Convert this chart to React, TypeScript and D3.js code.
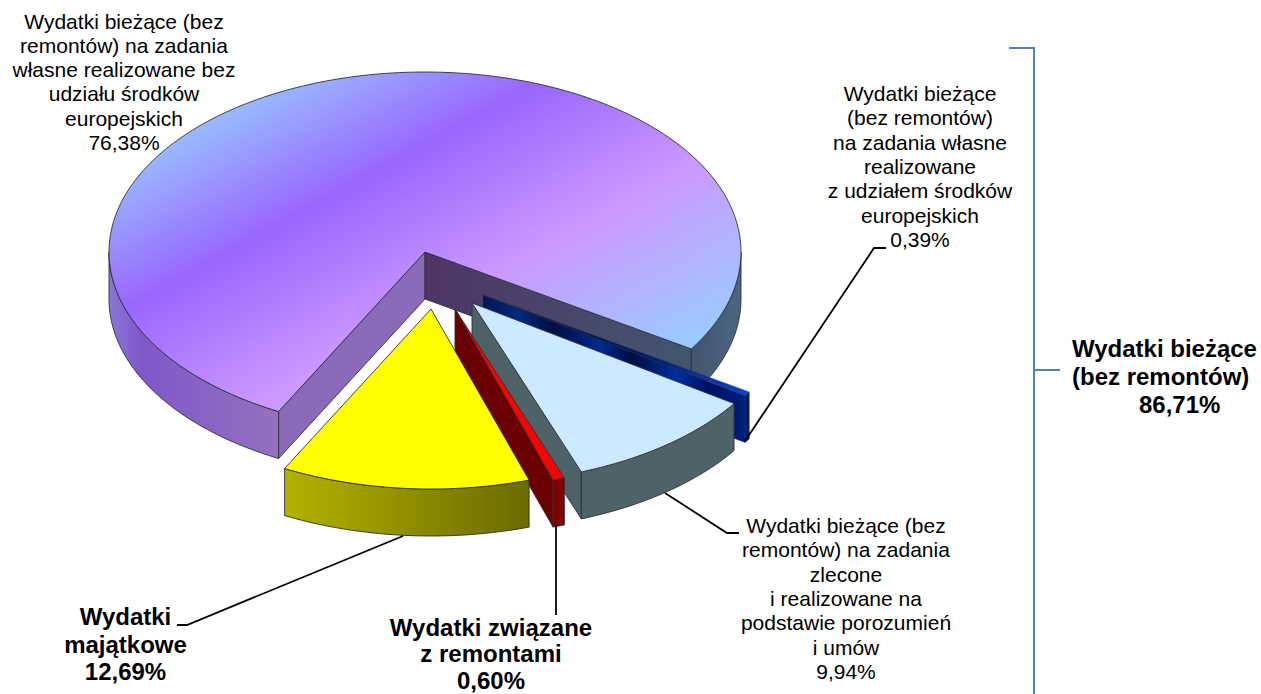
import * as d3 from "d3";
import { useMemo } from "react";

const width = 1261;
const height = 694;

// values, clockwise from the start of the big slice
const sliceNames = ["biezace_bez_udzialu", "biezace_z_udzialem", "zlecone", "remonty", "majatkowe"];
const sliceValues = [76.38, 0.39, 9.94, 0.6, 12.69];

const topColors = ["url(#mainTop)", "url(#blueTop)", "#cce9ff", "#ff0000", "#ffff00"];
const wallColors = ["url(#mainOuter)", "#00206c", "#4f6268", "#7f0000", "url(#yellowOuter)"];
const startEdgeColors = ["#8a6bb8", "#00216e", "#4f6268", "#7f0000", "#808000"];
const endEdgeColors = ["url(#mainInner)", "url(#blueWall)", "#4f6268", "#6b0000", "#808000"];
// how far each slice is pulled out, px
const explodeX = [0, 58, 47, 30, 6];
const explodeY = [0, 43, 51, 57, 57];

const cx = 425;
const cy = 252;
const rx = 316;
const ry = 180;
const depth = 47;
const startDeg = 207.6; // d3 angle, clockwise from 12 o'clock

const labels = [
  { lines: ["Wydatki bieżące (bez", "remontów) na zadania", "własne realizowane bez", "udziału środków", "europejskich", "76,38%"], x: 124, y: 28.5, bold: false, gap: 24.3 },
  { lines: ["Wydatki bieżące", "(bez remontów)", "na zadania własne", "realizowane", "z udziałem środków", "europejskich", "0,39%"], x: 920, y: 101, bold: false, gap: 24.3 },
  { lines: ["Wydatki bieżące (bez", "remontów) na zadania", "zlecone", "i realizowane na", "podstawie porozumień", "i umów", "9,94%"], x: 846, y: 533, bold: false, gap: 24.3 },
  { lines: ["Wydatki", "majątkowe", "12,69%"], x: 125.5, y: 625, bold: true, gap: 27.6 },
  { lines: ["Wydatki związane", "z remontami", "0,60%"], x: 491, y: 636, bold: true, gap: 26.4 },
];

const leaders = [
  [[745, 441], [874, 248], [886, 248]],
  [[665, 493], [727, 533], [739, 533]],
  [[403, 536], [187, 625], [177, 625]],
  [[556, 525], [556, 615]],
];

const bracket = [[1009, 48], [1034, 48], [1034, 700]];
const bracketTick = [[1034, 370], [1060, 370]];

const line = d3.line();

export default function App() {
  const arcs = useMemo(() => {
    const pie = d3.pie<number>().sort(null).startAngle((startDeg * Math.PI) / 180).endAngle((startDeg * Math.PI) / 180 + 2 * Math.PI);
    return pie(sliceValues);
  }, []);

  // d3 angle -> screen point on the flattened disc
  const pt = (a: number, i: number, dz = 0): [number, number] => [
    cx + explodeX[i] + rx * Math.sin(a),
    cy + explodeY[i] - ry * Math.cos(a) + dz,
  ];
  const apex = (i: number, dz = 0): [number, number] => [cx + explodeX[i], cy + explodeY[i] + dz];

  const arcPts = (a0: number, a1: number, i: number, dz = 0) => {
    const n = Math.max(2, Math.ceil((a1 - a0) / 0.02));
    return d3.range(n + 1).map((k) => pt(a0 + ((a1 - a0) * k) / n, i, dz));
  };

  // parts of the rim that face the viewer (front half of the disc: d3 angle 90..270 deg)
  const frontRanges = (a0: number, a1: number) => {
    const out: [number, number][] = [];
    for (let k = -1; k < 3; k++) {
      const lo = Math.max(a0, Math.PI / 2 + k * 2 * Math.PI);
      const hi = Math.min(a1, (3 * Math.PI) / 2 + k * 2 * Math.PI);
      if (hi > lo) out.push([lo, hi]);
    }
    return out;
  };

  const strokeCol = "#2f2f3a";

  return (
    <svg width={width} height={height} style={{ position: "absolute", left: 0, top: 0 }} fontFamily="'Liberation Sans', Arial, sans-serif">
      <defs>
        <linearGradient id="mainTop" gradientUnits="userSpaceOnUse" x1={86} y1={158} x2={307} y2={561}>
          <stop offset="0" stopColor="#99ccff" />
          <stop offset="0.33" stopColor="#9966ff" />
          <stop offset="0.65" stopColor="#cc99ff" />
          <stop offset="1" stopColor="#99ccff" />
        </linearGradient>
        <linearGradient id="mainOuter" gradientUnits="userSpaceOnUse" x1={109} y1={0} x2={741} y2={0}>
          <stop offset="0" stopColor="#8a78d8" />
          <stop offset="0.05" stopColor="#7f58c8" />
          <stop offset="0.27" stopColor="#9372bc" />
          <stop offset="0.4" stopColor="#8f6fb8" />
          <stop offset="0.6" stopColor="#4f3a6a" />
          <stop offset="0.9" stopColor="#3f5068" />
          <stop offset="1" stopColor="#4c6680" />
        </linearGradient>
        <linearGradient id="mainInner" gradientUnits="userSpaceOnUse" x1={425} y1={0} x2={691} y2={0}>
          <stop offset="0" stopColor="#4e3566" />
          <stop offset="1" stopColor="#41566e" />
        </linearGradient>
        <linearGradient id="yellowOuter" gradientUnits="userSpaceOnUse" x1={284} y1={0} x2={528} y2={0}>
          <stop offset="0" stopColor="#b3b300" />
          <stop offset="1" stopColor="#6b6b00" />
        </linearGradient>
        <linearGradient id="blueTop" gradientUnits="userSpaceOnUse" x1={483} y1={0} x2={749} y2={0}>
          <stop offset="0" stopColor="#00144a" />
          <stop offset="0.6" stopColor="#001c68" />
          <stop offset="0.85" stopColor="#0a34a8" />
          <stop offset="1" stopColor="#0a44d8" />
        </linearGradient>
        <linearGradient id="blueWall" gradientUnits="userSpaceOnUse" x1={483} y1={0} x2={749} y2={0}>
          <stop offset="0" stopColor="#001850" />
          <stop offset="0.14" stopColor="#002a80" />
          <stop offset="0.26" stopColor="#000d40" />
          <stop offset="0.44" stopColor="#002a90" />
          <stop offset="0.56" stopColor="#000d40" />
          <stop offset="0.73" stopColor="#0030a0" />
          <stop offset="0.84" stopColor="#001060" />
          <stop offset="1" stopColor="#002080" />
        </linearGradient>
      </defs>

      {arcs.map((d, i) => {
        const a0 = d.startAngle;
        const a1 = d.endAngle;
        const top = [apex(i), ...arcPts(a0, a1, i)] as [number, number][];
        // radial walls show only if their outward normal points at the viewer
        const startVisible = Math.cos(a0 - Math.PI / 2) < 0;
        const endVisible = Math.cos(a1 + Math.PI / 2) < 0;
        const sw = sliceNames[i] === "biezace_z_udzialem" ? 0.4 : 0.9;
        return (
          <g key={sliceNames[i]} stroke={strokeCol} strokeWidth={sw} strokeLinejoin="round">
            {startVisible && (
              <path fill={startEdgeColors[i]} d={line([apex(i), pt(a0, i), pt(a0, i, depth), apex(i, depth)]) + "Z"} />
            )}
            {endVisible && (
              <path fill={endEdgeColors[i]} d={line([apex(i), pt(a1, i), pt(a1, i, depth), apex(i, depth)]) + "Z"} />
            )}
            {frontRanges(a0, a1).map(([lo, hi]) => (
              <path key={lo} fill={wallColors[i]} d={line([...arcPts(lo, hi, i), ...arcPts(lo, hi, i, depth).reverse()]) + "Z"} />
            ))}
            <path fill={topColors[i]} d={line(top) + "Z"} />
          </g>
        );
      })}

      <g fill="none" stroke="#000" strokeWidth={1.8}>
        {leaders.map((l, i) => (
          <path key={i} d={line(l as [number, number][]) ?? ""} />
        ))}
      </g>
      <g fill="none" stroke="#4f81bd" strokeWidth={2}>
        <path d={line(bracket as [number, number][]) ?? ""} />
        <path d={line(bracketTick as [number, number][]) ?? ""} />
      </g>

      {labels.map((l, i) => (
        <text key={i} textAnchor="middle" fontSize={l.bold ? 24 : 21} fontWeight={l.bold ? 700 : 400} fill="#000">
          {l.lines.map((s, k) => (
            <tspan key={k} x={l.x} y={l.y + k * l.gap}>
              {s}
            </tspan>
          ))}
        </text>
      ))}
      <text fontSize={24} fontWeight={700} fill="#000">
        <tspan x={1072} y={357}>Wydatki bieżące</tspan>
        <tspan x={1072} y={385}>(bez remontów)</tspan>
        <tspan x={1139} y={413}>86,71%</tspan>
      </text>
    </svg>
  );
}
